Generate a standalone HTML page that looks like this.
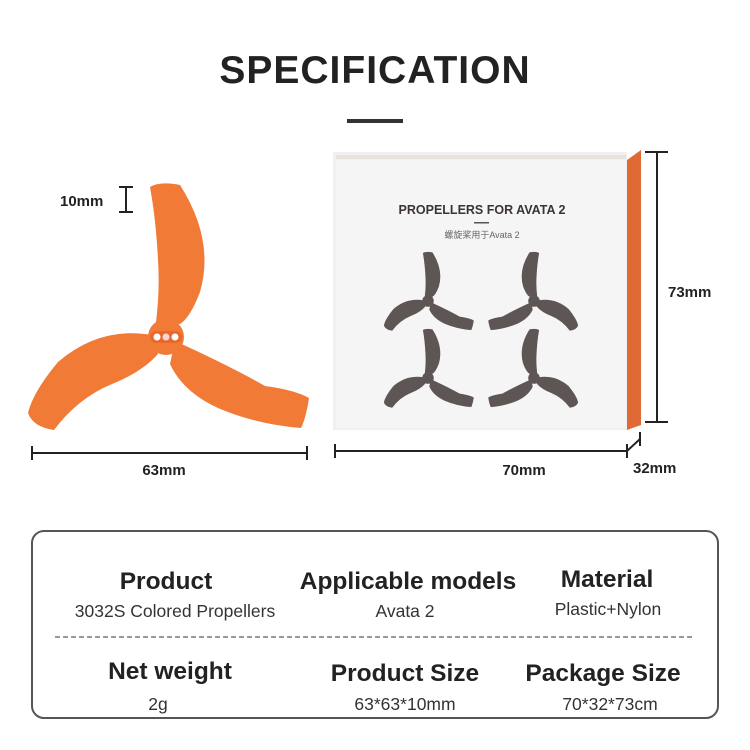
<!DOCTYPE html>
<html><head><meta charset="utf-8"><style>
body{margin:0;background:#fff;width:750px;height:750px;overflow:hidden}
svg{display:block}
text{font-family:"Liberation Sans","Noto Sans CJK SC",sans-serif}
</style></head><body>
<svg width="750" height="750" viewBox="0 0 750 750">
<defs>
<g id="prop">
<path d="M150,187 Q160,181 180,185 Q215,240 200,292 Q190,318 180,324 L156,322 Q160,290 158,260 Q156,220 150,187 Z"/>
<path d="M152,335 Q100,326 58,362 Q33,392 28,413 Q33,427 54,430 Q78,398 112,384 Q142,372 158,354 Z"/>
<path d="M175,341 Q230,366 265,386 Q295,390 309,398 Q306,418 301,428 Q255,424 218,408 Q183,392 170,364 Z"/>
<circle cx="166" cy="337" r="18"/>
</g>
</defs>
<text x="375" y="83" font-size="39" font-weight="bold" text-anchor="middle" fill="#222" letter-spacing="1">SPECIFICATION</text>
<rect x="347" y="119" width="56" height="4" fill="#333"/>

<g fill="#f07a36"><use href="#prop"/></g>
<rect x="150" y="331" width="32" height="12" rx="6" fill="#e8682a"/>
<circle cx="157" cy="337" r="3.5" fill="#fff"/><circle cx="166" cy="337" r="3.5" fill="#f4d6d6"/><circle cx="175" cy="337" r="3.5" fill="#fff"/>
<g stroke="#222" stroke-width="2" fill="none">
<path d="M119,187 H133 M126,187 V212 M119,212 H133"/>
<path d="M32,446 V460 M32,453 H307 M307,446 V460"/>
<path d="M335,444 V458 M335,451 H627 M627,444 V458 M627,451 L640,439 M640,432 V446"/>
<path d="M645,152 H668 M657,152 V422 M645,422 H668"/>
</g>
<text x="60" y="206" font-size="15" font-weight="bold" fill="#222">10mm</text>
<text x="164" y="475" font-size="15" font-weight="bold" fill="#222" text-anchor="middle">63mm</text>
<text x="524" y="475" font-size="15" font-weight="bold" fill="#222" text-anchor="middle">70mm</text>
<text x="633" y="473" font-size="15" font-weight="bold" fill="#222">32mm</text>
<text x="668" y="297" font-size="15" font-weight="bold" fill="#222">73mm</text>

<polygon points="627,160 641,150 641,425 627,430" fill="#e06a35"/>
<rect x="333" y="152" width="294" height="278" fill="#f1efef"/>
<rect x="336" y="160" width="290" height="268" fill="#f6f5f5"/>
<rect x="336" y="155" width="290" height="4" fill="#e8e2dc"/>
<text x="482" y="214" font-size="12.5" font-weight="bold" fill="#3a3434" text-anchor="middle">PROPELLERS FOR AVATA 2</text>
<rect x="474" y="222" width="15" height="1.5" fill="#555"/>
<text x="482" y="238" font-size="9" fill="#666" text-anchor="middle">螺旋桨用于Avata 2</text>
<g fill="#5e5655">
<use href="#prop" transform="translate(428,301) scale(.32) translate(-166,-337)"/>
<use href="#prop" transform="translate(534,301) scale(-.32,.32) translate(-166,-337)"/>
<use href="#prop" transform="translate(428,378) scale(.32) translate(-166,-337)"/>
<use href="#prop" transform="translate(534,378) scale(-.32,.32) translate(-166,-337)"/>
</g>

<rect x="32" y="531" width="686" height="187" rx="12" fill="none" stroke="#555" stroke-width="2"/>
<line x1="55" y1="637" x2="695" y2="637" stroke="#777" stroke-width="1.5" stroke-dasharray="5,3"/>
<g font-size="24.5" font-weight="bold" fill="#222" text-anchor="middle">
<text x="166" y="589">Product</text>
<text x="408" y="589">Applicable models</text>
<text x="607" y="587">Material</text>
<text x="170" y="679">Net weight</text>
<text x="405" y="681">Product Size</text>
<text x="603" y="681">Package Size</text>
</g>
<g font-size="17.5" fill="#333" text-anchor="middle">
<text x="175" y="617">3032S Colored Propellers</text>
<text x="405" y="617">Avata 2</text>
<text x="608" y="615">Plastic+Nylon</text>
<text x="158" y="710">2g</text>
<text x="405" y="710">63*63*10mm</text>
<text x="610" y="710">70*32*73cm</text>
</g>
</svg>
</body></html>
